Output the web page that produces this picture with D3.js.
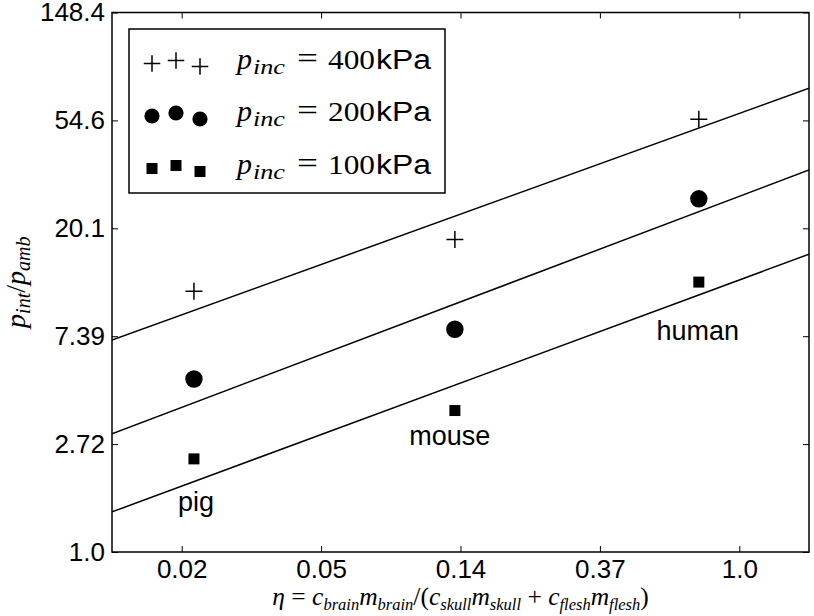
<!DOCTYPE html>
<html>
<head>
<meta charset="utf-8">
<script src="https://cdn.jsdelivr.net/npm/d3@7/dist/d3.min.js"></script>
<style>
  html, body { margin: 0; padding: 0; background: #fff; }
  svg { display: block; }
</style>
</head>
<body>
<svg id="chart" width="814" height="616"></svg>
<script>
// ---------- data ----------
const animals = ["pig", "mouse", "human"];
const eta = [0.020, 0.130, 0.748];
const p400 = [11.2, 18.1, 55.2];
const p200 = [4.97, 7.88, 26.4];
const p100 = [2.37, 3.71, 12.2];

// fitted lines (values at the two ends of the x range)
const fitEta = [0.01111, 1.6487];
const fit400 = [7.13, 73.5];
const fit200 = [2.99, 34.5];
const fit100 = [1.45, 15.8];

// annotation anchors (data coordinates)
const labelEta = [0.0203, 0.1253, 0.742];
const labelP = [1.46, 2.70, 7.13];

const xTickValues = [0.018316, 0.049787, 0.135335, 0.367879, 1.0];
const xTickLabels = ["0.02", "0.05", "0.14", "0.37", "1.0"];
const yTickValues = [1.0, 2.718282, 7.389056, 20.085537, 54.59815, 148.413159];
const yTickLabels = ["1.0", "2.72", "7.39", "20.1", "54.6", "148.4"];

const seriesNames = ["400", "200", "100"];
const seriesMarkers = ["plus", "circle", "square"];

// ---------- layout ----------
const L = 112, R = 809, T = 12.5, B = 552;
const svg = d3.select("#chart");
const x = d3.scaleLog().domain([fitEta[0], fitEta[1]]).range([L, R]);
const y = d3.scaleLog().domain([yTickValues[0], yTickValues[yTickValues.length - 1]]).range([B, T]);

const sans = "'Liberation Sans', Arial, Helvetica, sans-serif";
const serif = "'Liberation Serif', 'Times New Roman', serif";

// axes
function styleAxis(g) {
  g.select(".domain").remove();
  g.selectAll(".tick line").attr("stroke", "#000").attr("stroke-width", 1);
  g.selectAll(".tick text").attr("fill", "#000").style("font-family", sans).style("font-size", "26px");
}
svg.append("g").attr("transform", `translate(0,${B})`)
  .call(d3.axisBottom(x).tickValues(xTickValues).tickFormat((d, i) => xTickLabels[i]).tickSizeInner(-6).tickSizeOuter(0).tickPadding(7.5))
  .call(styleAxis);
svg.append("g").attr("transform", `translate(0,${T})`)
  .call(d3.axisTop(x).tickValues(xTickValues).tickFormat("").tickSizeInner(-6).tickSizeOuter(0))
  .call(styleAxis);
svg.append("g").attr("transform", `translate(${L},0)`)
  .call(d3.axisLeft(y).tickValues(yTickValues).tickFormat((d, i) => yTickLabels[i]).tickSizeInner(-6).tickSizeOuter(0).tickPadding(7))
  .call(styleAxis);
svg.append("g").attr("transform", `translate(${R},0)`)
  .call(d3.axisRight(y).tickValues(yTickValues).tickFormat("").tickSizeInner(-6).tickSizeOuter(0))
  .call(styleAxis);

// frame
svg.append("rect").attr("x", L).attr("y", T).attr("width", R - L).attr("height", B - T)
  .attr("fill", "none").attr("stroke", "#000").attr("stroke-width", 1.5);

// clip
svg.append("clipPath").attr("id", "clip").append("rect")
  .attr("x", L).attr("y", T).attr("width", R - L).attr("height", B - T);
const plot = svg.append("g").attr("clip-path", "url(#clip)");

// fit lines
const line = d3.line().x(d => x(d[0])).y(d => y(d[1]));
[fit400, fit200, fit100].forEach(f => {
  plot.append("path").datum(fitEta.map((e, i) => [e, f[i]]))
    .attr("d", line).attr("fill", "none").attr("stroke", "#000").attr("stroke-width", 1.5);
});

// markers
function drawMarker(g, type, cx, cy, s) {
  if (type === "plus") {
    const h = s.plus / 2;
    g.append("path").attr("d", `M${cx - h},${cy}H${cx + h}M${cx},${cy - h}V${cy + h}`)
      .attr("stroke", "#000").attr("stroke-width", 1.5).attr("fill", "none");
  } else if (type === "circle") {
    g.append("circle").attr("cx", cx).attr("cy", cy).attr("r", s.r).attr("fill", "#000");
  } else {
    g.append("rect").attr("x", cx - s.sq / 2).attr("y", cy - s.sq / 2)
      .attr("width", s.sq).attr("height", s.sq).attr("fill", "#000");
  }
}
const plotSize = { plus: 17, r: 8.7, sq: 11 };
[p400, p200, p100].forEach((vals, si) => {
  vals.forEach((v, i) => drawMarker(plot, seriesMarkers[si], x(eta[i]), y(v), plotSize));
});

// animal labels
svg.append("g").selectAll("text").data(animals).join("text")
  .attr("x", (d, i) => x(labelEta[i])).attr("y", (d, i) => y(labelP[i]))
  .attr("text-anchor", "middle")
  .style("font-family", sans).style("font-size", "27px").attr("fill", "#000")
  .text(d => d);

// legend
const lg = svg.append("g");
lg.append("rect").attr("x", 129).attr("y", 29).attr("width", 316).attr("height", 164)
  .attr("fill", "#fff").attr("stroke", "#000").attr("stroke-width", 1.5);
const legendSize = { plus: 16.5, r: 7.6, sq: 11 };
const mkX = [152, 176, 200];
const mkDy = [0, -3, 3];
function piece(g, txt, px, py, fam, size, italic, len) {
  const t = g.append("text").attr("x", px).attr("y", py).attr("fill", "#000")
    .style("font-family", fam).style("font-size", size + "px")
    .style("font-style", italic ? "italic" : "normal").text(txt);
  if (len) t.attr("textLength", len).attr("lengthAdjust", "spacingAndGlyphs");
  return t;
}
seriesNames.forEach((name, si) => {
  const base = 68.5 + si * 52.5;
  const cy = base - 5;
  mkX.forEach((mx, k) => drawMarker(lg, seriesMarkers[si], mx, cy + mkDy[k], legendSize));
  piece(lg, "p", 237, base, serif, 30, true);
  piece(lg, "inc", 253, base + 5, serif, 21, true, 32);
  piece(lg, "=", 297, base - 1, serif, 30, false, 21);
  piece(lg, name, 328, base, serif, 28, false, 47);
  piece(lg, "kPa", 376, base, sans, 27, false, 55);
});

// axis labels
function mathText(g, parts, big, small) {
  parts.forEach(p => {
    const ts = g.append("tspan").style("font-family", serif)
      .style("font-size", (p.sub ? small : big) + "px")
      .style("font-style", p.it ? "italic" : "normal")
      .text(p.t);
    if (p.dy) ts.attr("dy", p.dy);
  });
}
const xl = svg.append("text").attr("x", (L + R) / 2).attr("y", 605).attr("text-anchor", "middle").attr("fill", "#000");
mathText(xl, [
  { t: "η", it: true }, { t: " = " },
  { t: "c", it: true }, { t: "brain", it: true, sub: true, dy: 5 },
  { t: "m", it: true, dy: -5 }, { t: "brain", it: true, sub: true, dy: 5 },
  { t: "/(", dy: -5 }, { t: "c", it: true }, { t: "skull", it: true, sub: true, dy: 5 },
  { t: "m", it: true, dy: -5 }, { t: "skull", it: true, sub: true, dy: 5 },
  { t: " + ", dy: -5 }, { t: "c", it: true }, { t: "flesh", it: true, sub: true, dy: 5 },
  { t: "m", it: true, dy: -5 }, { t: "flesh", it: true, sub: true, dy: 5 },
  { t: ")", dy: -5 }
], 25.5, 16.5);

const yl = svg.append("text").attr("transform", `translate(25,${(T + B) / 2}) rotate(-90)`)
  .attr("text-anchor", "middle").attr("fill", "#000");
mathText(yl, [
  { t: "p", it: true }, { t: "int", it: true, sub: true, dy: 5 },
  { t: "/", dy: -5 }, { t: "p", it: true }, { t: "amb", it: true, sub: true, dy: 5 }
], 28, 20);
</script>
</body>
</html>
